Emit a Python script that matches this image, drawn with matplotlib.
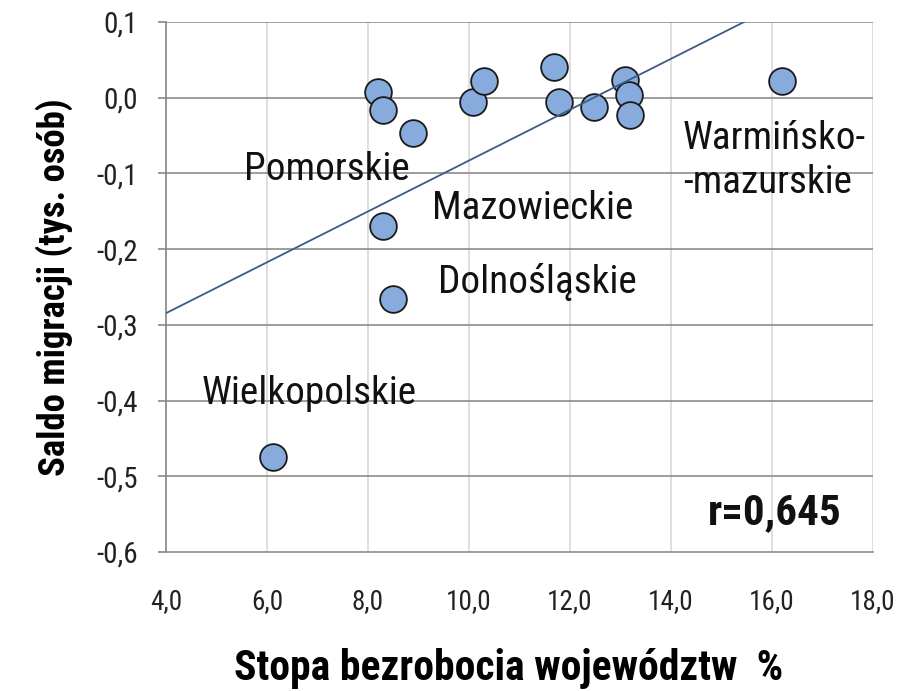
import numpy as np
import matplotlib
matplotlib.use("Agg")
import matplotlib.pyplot as plt
from matplotlib.ticker import FixedLocator, FuncFormatter

# stopa bezrobocia (%) i saldo migracji (tys. osob) dla wojewodztw
unemployment = [8.20, 8.30, 8.90, 10.07, 10.30, 11.69, 11.79, 12.48,
                13.09, 13.16, 13.18, 16.19, 8.30, 8.50, 6.11]
migration = [0.008, -0.016, -0.047, -0.006, 0.022, 0.041, -0.006, -0.012,
             0.023, 0.003, -0.023, 0.022, -0.169, -0.266, -0.474]

region_labels = ["Pomorskie", "Mazowieckie", "Dolnośląskie", "Wielkopolskie",
                 "Warmińsko-\n-mazurskie"]
label_x = [5.54, 9.26, 9.39, 4.71, 14.24]
label_y = [-0.109, -0.160, -0.258, -0.405, -0.1265]

r_text = "r=0,645"
x_ticks = [4, 6, 8, 10, 12, 14, 16, 18]
y_ticks = [-0.6, -0.5, -0.4, -0.3, -0.2, -0.1, 0.0, 0.1]

plt.rcParams["font.family"] = ["Roboto Condensed", "Liberation Sans", "DejaVu Sans"]

fig = plt.figure(figsize=(9.06, 6.91), dpi=100)
ax = fig.add_axes([166 / 906, 1 - 552 / 691, 707 / 906, 530 / 691])

ax.set_xlim(4, 18)
ax.set_ylim(-0.6, 0.1)

# siatka
for v in x_ticks[1:]:
    ax.axvline(v, color="#d9d9d9", lw=1.2, zorder=0)
for v in y_ticks[1:]:
    ax.axhline(v, color="#8c8c8c", lw=1.2, zorder=0.5)

ax.scatter(unemployment, migration, s=370, color="#86abdc",
           edgecolors="#1a1a1a", linewidths=1.3, zorder=3)

# linia trendu
a, b = np.polyfit(unemployment, migration, 1)
xs = np.array([4, 18])
ax.plot(xs, a * xs + b, color="#3d5b86", lw=1.3, zorder=4)

for txt, lx, ly in zip(region_labels, label_x, label_y):
    ax.text(lx, ly, txt, fontsize=28.3, color="#111111", ha="left",
            va="baseline", linespacing=1.27, zorder=5)

ax.text(14.73, -0.5636, r_text, fontsize=31, fontweight="bold",
        color="#111111", ha="left", va="baseline", zorder=5)

for s in ["top", "right"]:
    ax.spines[s].set_visible(False)
ax.spines["left"].set_color("#868686")
ax.spines["left"].set_linewidth(1.2)
ax.spines["bottom"].set_color("#8c8c8c")
ax.spines["bottom"].set_linewidth(1.2)

ax.xaxis.set_major_locator(FixedLocator(x_ticks))
ax.yaxis.set_major_locator(FixedLocator(y_ticks))
ax.xaxis.set_major_formatter(FuncFormatter(lambda v, p: f"{v:.1f}".replace(".", ",")))
ax.yaxis.set_major_formatter(FuncFormatter(lambda v, p: f"{v:.1f}".replace(".", ",")))
ax.tick_params(axis="x", length=0, pad=26, labelsize=19.5, labelcolor="#222222")
ax.tick_params(axis="y", length=6, width=1.2, color="#868686", pad=14,
               labelsize=21, labelcolor="#222222")

ax.set_xlabel("Stopa bezrobocia województw  %", fontsize=30, fontweight="bold")
ax.xaxis.set_label_coords(0.484, -0.181)
ax.set_ylabel("Saldo migracji (tys. osób)", fontsize=26.5, fontweight="bold")
ax.yaxis.set_label_coords(-0.1315, 0.5)

fig.savefig("out.png", dpi=100)
